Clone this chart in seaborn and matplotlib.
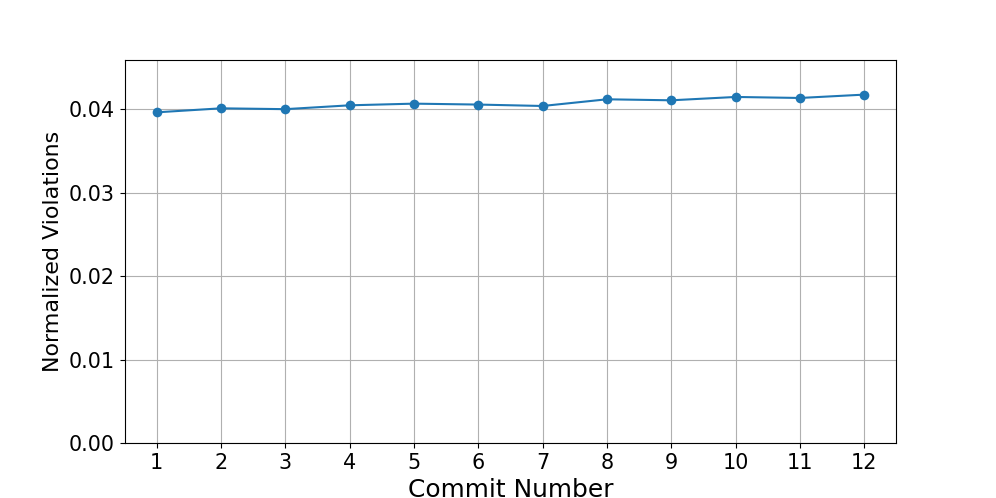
import matplotlib
matplotlib.use("Agg")
import matplotlib.pyplot as plt
import seaborn as sns
import pandas as pd

commits = list(range(1, 13))
violations = [0.03960, 0.04008, 0.03998, 0.04044, 0.04064, 0.04053,
              0.04036, 0.04116, 0.04104, 0.04144, 0.04132, 0.04172]

df = pd.DataFrame({"Commit Number": commits, "Normalized Violations": violations})

fig, ax = plt.subplots(figsize=(10, 5), dpi=99.6)
sns.lineplot(data=df, x="Commit Number", y="Normalized Violations", marker="o",
             markersize=7, markeredgewidth=0, color="#1f77b4", linewidth=1.5, ax=ax)
ax.set_ylim(0, max(violations) * 1.1)
ax.set_xlim(0.5, 12.5)
ax.set_xticks(commits)
ax.grid(True, color="#b0b0b0", linewidth=0.8)
ax.set_axisbelow(True)
ax.tick_params(labelsize=15)
ax.set_xlabel("Commit Number", fontsize=18)
ax.set_ylabel("Normalized Violations", fontsize=16)
fig.savefig("out.png", dpi=99.6)
